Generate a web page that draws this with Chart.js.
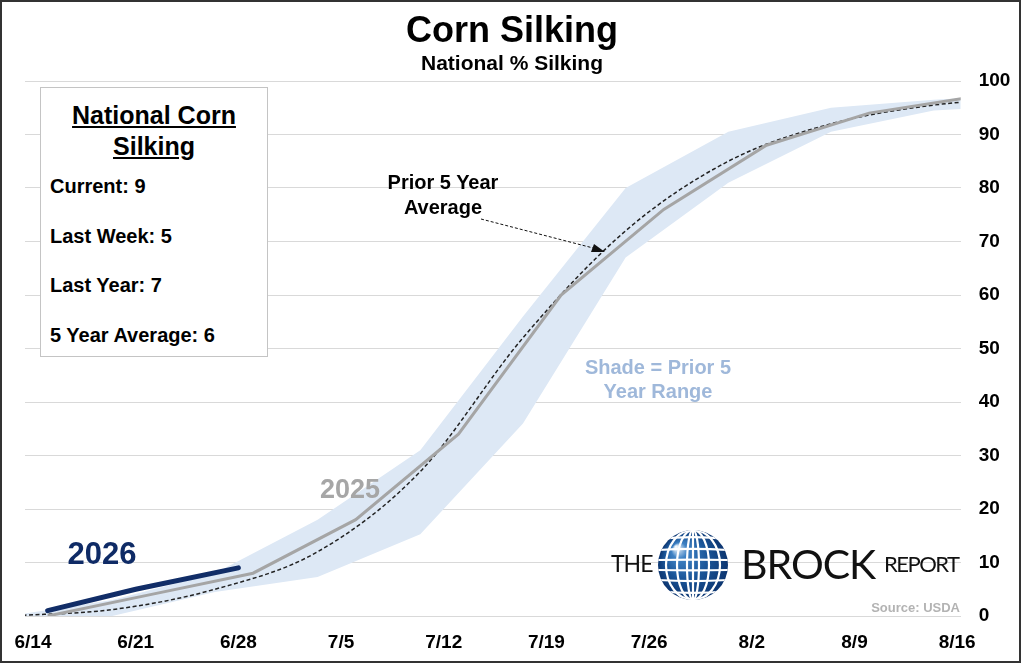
<!DOCTYPE html>
<html>
<head>
<meta charset="utf-8">
<script src="https://cdn.jsdelivr.net/npm/chart.js@4/dist/chart.umd.min.js"></script>
<style>
  body { margin:0; background:#fff; }
  #wrap { position:relative; width:1024px; height:664px; overflow:hidden; }
  #frame { position:absolute; left:0; top:0; width:1021px; height:663px; border:2px solid #333; box-sizing:border-box; pointer-events:none; }
  .t { position:absolute; font-family:"Liberation Sans", Arial, sans-serif; font-weight:bold; line-height:1; white-space:nowrap; color:#000; }
  .c { text-align:center; }
  #box { position:absolute; left:40px; top:87px; width:228px; height:270px; border:1px solid #c4c4c4; background:#fff; box-sizing:border-box; }
  .logo { position:absolute; font-family:Lato, "Noto Sans", sans-serif; font-weight:400; line-height:1; white-space:nowrap; color:#111; }
</style>
</head>
<body>
<div id="wrap">
  <canvas id="chart" width="1024" height="664"></canvas>

  <div class="t c" style="left:0;width:1024px;top:12px;font-size:36px">Corn Silking</div>
  <div class="t c" style="left:0;width:1024px;top:52px;font-size:21px">National % Silking</div>

  <div id="box"></div>
  <div class="t c" style="left:40px;width:228px;top:103px;font-size:25px;text-decoration:underline">National Corn</div>
  <div class="t c" style="left:40px;width:228px;top:134px;font-size:25px;text-decoration:underline">Silking</div>
  <div class="t" style="left:50px;top:176px;font-size:20px">Current: 9</div>
  <div class="t" style="left:50px;top:226px;font-size:20px">Last Week: 5</div>
  <div class="t" style="left:50px;top:275px;font-size:20px">Last Year: 7</div>
  <div class="t" style="left:50px;top:325px;font-size:20px">5 Year Average: 6</div>

  <div class="t c" style="left:343px;width:200px;top:172px;font-size:20px">Prior 5 Year</div>
  <div class="t c" style="left:343px;width:200px;top:197px;font-size:20px">Average</div>

  <div class="t c" style="left:558px;width:200px;top:357px;font-size:20px;color:#9fb8da">Shade = Prior 5</div>
  <div class="t c" style="left:558px;width:200px;top:381px;font-size:20px;color:#9fb8da">Year Range</div>

  <div class="t c" style="left:300px;width:100px;top:476px;font-size:27px;color:#a6a6a6">2025</div>
  <div class="t c" style="left:52px;width:100px;top:538px;font-size:31px;color:#0f2b66">2026</div>

  <div class="logo" style="left:611px;top:552px;font-size:23px;letter-spacing:-1px">THE</div>
  <div class="logo" style="left:741px;top:543px;font-size:41px;letter-spacing:-1px">BROCK</div>
  <div class="logo" style="left:884px;top:553px;font-size:22px;letter-spacing:-1.5px">REPORT</div>
  <div class="t" style="right:64px;top:601px;font-size:13px;color:#b3b3b3">Source: USDA</div>

  <div id="frame"></div>
</div>
<script>
// axis labels: one per week, day 0 = 6/14
var weekLabels = ['6/14','6/21','6/28','7/5','7/12','7/19','7/26','8/2','8/9','8/16'];
var weekDays = [0,7,14,21,28,35,42,49,56,63];

// 2026 progress
var days2026 = [1,7,14];
var pct2026 = [1,5,9];

// 2025 progress
var days2025 = [1,8,15,22,29,36,43,50,57,64];
var pct2025 = [0,4,8,18,34,60,76,88,94,97];

// prior 5 year average and range
var daysAvg = [-1.6,5.4,12.4,19.4,26.4,33.4,40.4,47.4,54.4,61.4,68.4];
var pctAvg = [0,1.2,5,12,27,52,72,85,92,95.5,97];
var rangeLow = [0,0,4.5,7.3,15.3,36,67,81,90.5,94.5,95.5];
var rangeHigh = [0,3,8,18,31,56,80,90.5,95,96.5,97.5];

function pts(xs, ys){
    var out = [];
    for(let i=0; i<xs.length; i++){
        out.push({x:xs[i], y:ys[i]});
    }
    return out;
}

var extras = {
    id:'extras',
    afterDraw:function(chart){
        var ctx = chart.ctx;
        // arrow to the average line
        ctx.save();
        ctx.strokeStyle = '#111';
        ctx.lineWidth = 1;
        ctx.setLineDash([3,2]);
        ctx.beginPath();
        ctx.moveTo(481,219);
        ctx.lineTo(597,249);
        ctx.stroke();
        ctx.setLineDash([]);
        ctx.fillStyle = '#111';
        ctx.beginPath();
        ctx.moveTo(605,252);
        ctx.lineTo(594,244);
        ctx.lineTo(591,252);
        ctx.closePath();
        ctx.fill();
        ctx.restore();

        // globe
        var cx = 693, cy = 565, r = 35;
        ctx.save();
        ctx.beginPath();
        ctx.arc(cx, cy, r, 0, Math.PI*2);
        ctx.clip();
        var g = ctx.createRadialGradient(cx-17, cy-18, 1, cx, cy, r);
        g.addColorStop(0, '#f2f8fd');
        g.addColorStop(0.2, '#3f82c4');
        g.addColorStop(0.6, '#1a5598');
        g.addColorStop(1, '#0c3570');
        ctx.fillStyle = g;
        ctx.fillRect(cx-r, cy-r, r*2, r*2);
        ctx.strokeStyle = '#fff';
        ctx.lineWidth = 2.2;
        [-26,-15,-5,5,15,26].forEach(function(dy){
            ctx.beginPath();
            ctx.moveTo(cx-r, cy+dy);
            ctx.quadraticCurveTo(cx, cy+dy+(dy*0.15), cx+r, cy+dy);
            ctx.stroke();
        });
        [6,16,27].forEach(function(rx){
            ctx.beginPath();
            ctx.ellipse(cx, cy, rx, r, 0, 0, Math.PI*2);
            ctx.stroke();
        });
        ctx.beginPath();
        ctx.moveTo(cx, cy-r);
        ctx.lineTo(cx, cy+r);
        ctx.stroke();
        ctx.restore();
    }
};

new Chart(document.getElementById('chart'), {
    type:'line',
    plugins:[extras],
    data:{
        datasets:[
            {
                label:'2026', data:pts(days2026, pct2026),
                borderColor:'#112d67', borderWidth:5, borderCapStyle:'round',
                pointRadius:0, fill:false, order:0, clip:0
            },
            {
                label:'2025', data:pts(days2025, pct2025),
                borderColor:'#a5a5a5', borderWidth:3,
                pointRadius:0, fill:false, order:1, clip:0
            },
            {
                label:'Prior 5 Year Average', data:pts(daysAvg, pctAvg),
                borderColor:'#222', borderWidth:1.5, borderDash:[4,2.5],
                cubicInterpolationMode:'monotone',
                pointRadius:0, fill:false, order:2, clip:0
            },
            {
                label:'range low', data:pts(daysAvg, rangeLow),
                borderWidth:0, borderColor:'rgba(0,0,0,0)',
                pointRadius:0, fill:false, order:4, clip:0
            },
            {
                label:'range high', data:pts(daysAvg, rangeHigh),
                borderWidth:0, borderColor:'rgba(0,0,0,0)',
                backgroundColor:'#dde8f5',
                pointRadius:0, fill:'-1', order:3, clip:0
            }
        ]
    },
    options:{
        responsive:false,
        animation:false,
        layout:{ padding:{ left:25, top:81, right:0, bottom:0 } },
        plugins:{
            legend:{ display:false },
            tooltip:{ enabled:false },
            filler:{ propagate:false }
        },
        scales:{
            x:{
                type:'linear',
                min:-0.545,
                max:63.24,
                grid:{ display:false },
                border:{ display:false },
                afterBuildTicks:function(axis){
                    axis.ticks = weekDays.map(function(d){ return {value:d}; });
                },
                afterFit:function(axis){ axis.height = 48; },
                ticks:{
                    autoSkip:false, maxRotation:0, padding:7, color:'#000',
                    font:{ family:'"Liberation Sans", Arial, sans-serif', size:19, weight:'bold' },
                    callback:function(v){
                        var i = weekDays.indexOf(v);
                        return i >= 0 ? weekLabels[i] : '';
                    }
                }
            },
            y:{
                position:'right',
                min:0, max:100,
                grid:{ color:'#d9d9d9', lineWidth:1, drawTicks:false },
                border:{ display:false },
                afterFit:function(axis){ axis.width = 63.3; },
                ticks:{
                    stepSize:10, padding:18, color:'#000',
                    font:{ family:'"Liberation Sans", Arial, sans-serif', size:19, weight:'bold' }
                }
            }
        }
    }
});
</script>
</body>
</html>
